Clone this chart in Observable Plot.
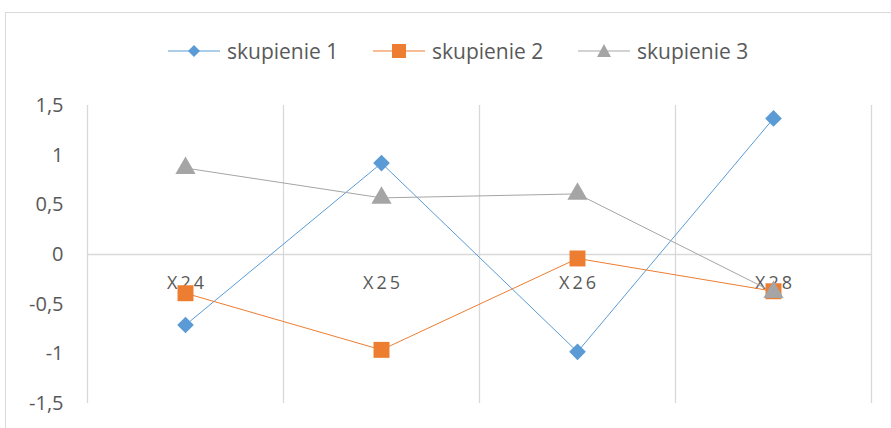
<!DOCTYPE html>
<html><head><meta charset="utf-8">
<script src="https://cdn.jsdelivr.net/npm/d3@7"></script>
<script src="https://cdn.jsdelivr.net/npm/@observablehq/plot@0.6"></script>
<style>
body{margin:0;background:#fff;font-family:"Open Sans",sans-serif;}
#wrap{position:relative;width:891px;height:428px;overflow:hidden;}
#frame{position:absolute;left:5px;top:12px;width:920px;height:440px;border:1px solid #D9D9D9;box-sizing:border-box;}
#legend{position:absolute;left:168px;top:37px;display:flex;}
.item{display:flex;align-items:center;width:205px;color:#595959;font-size:21px;}
.item svg{margin-right:7px;}
#chart{position:absolute;left:0;top:0;}
</style></head>
<body><div id="wrap"><div id="frame"></div><div id="legend"></div><div id="chart"></div></div>
<script>
const categories = ["X24","X25","X26","X28"];
const seriesNames = ["skupienie 1","skupienie 2","skupienie 3"];
const skupienie1 = [-0.71, 0.92, -0.98, 1.37];
const skupienie2 = [-0.39, -0.96, -0.04, -0.37];
const skupienie3 = [0.87, 0.57, 0.61, -0.38];
const yTicks = [-1.5, -1, -0.5, 0, 0.5, 1, 1.5];
const colors = ["#5B9BD5", "#ED7D31", "#A5A5A5"];
const symbols = ["diamond2", "square", "triangle"];
const radii = [7.5, 9, 7.5];

const values = [skupienie1, skupienie2, skupienie3];
const data = [];
values.forEach((arr, s) => arr.forEach((v, i) => data.push({series: seriesNames[s], i, cat: categories[i], v})));
const gridX = d3.range(categories.length + 1).map(k => k - 0.5);

const fmt = d => d3.format("")(d).replace(".", ",").replace("−", "-");

const marks = [
  Plot.ruleX(gridX, {stroke: "#D9D9D9", strokeWidth: 1.3, y1: -1.5, y2: 1.5}),
  Plot.ruleY([0], {stroke: "#D9D9D9", strokeWidth: 1.3}),
  Plot.text(categories, {x: (d, i) => i, y: 0, text: d => d.split("").join("\u2009"), dy: 29, fill: "#595959", fontSize: 18, textAnchor: "middle"}),
];
seriesNames.forEach((name, s) => {
  const sd = data.filter(d => d.series === name);
  marks.push(Plot.line(sd, {x: "i", y: "v", stroke: colors[s], strokeWidth: 1}));
});
seriesNames.forEach((name, s) => {
  const sd = data.filter(d => d.series === name);
  marks.push(Plot.dot(sd, {x: "i", y: "v", symbol: () => symbols[s], fill: colors[s], stroke: "none", r: radii[s]}));
});

const chart = Plot.plot({
  width: 891, height: 428,
  marginLeft: 87, marginRight: 20, marginTop: 105, marginBottom: 25,
  style: {fontFamily: "Open Sans, sans-serif", fontSize: "20px", color: "#595959", background: "transparent"},
  symbol: {type: "identity"},
  x: {domain: [-0.5, categories.length - 0.5], axis: null},
  y: {domain: [-1.5, 1.5], ticks: yTicks, tickFormat: fmt, tickSize: 0, tickPadding: 24, label: null},
  marks
});
document.getElementById("chart").appendChild(chart);

const leg = document.getElementById("legend");
seriesNames.forEach((name, s) => {
  const div = document.createElement("div");
  div.className = "item";
  const sz = 20;
  let sym;
  if (s === 0) sym = `<path d="M26,4 L32,10 L26,16 L20,10Z" fill="${colors[s]}"/>`;
  else if (s === 1) sym = `<rect x="19" y="3" width="14" height="14" fill="${colors[s]}"/>`;
  else sym = `<path d="M26,3 L33,16 L19,16Z" fill="${colors[s]}"/>`;
  div.innerHTML = `<svg width="52" height="${sz}"><line x1="0" x2="52" y1="10" y2="10" stroke="${colors[s]}" stroke-width="1.2"/>${sym}</svg><span>${name}</span>`;
  leg.appendChild(div);
});
</script></body></html>
